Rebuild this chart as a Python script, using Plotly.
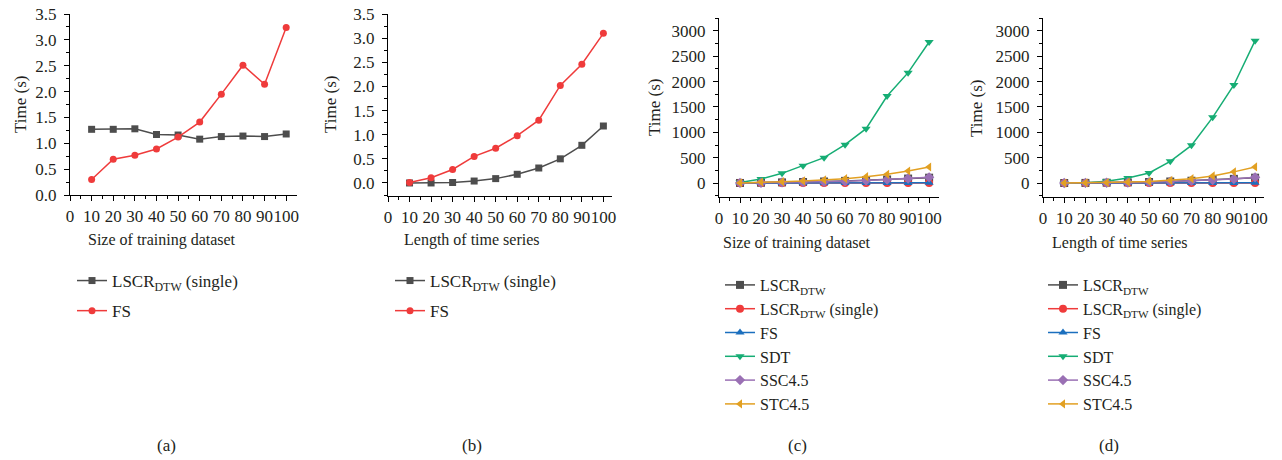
import plotly.graph_objects as go

# ---------------- data ----------------
x_vals = [10, 20, 30, 40, 50, 60, 70, 80, 90, 100]

# (a) size of training dataset
a_lscr_single = [1.27, 1.27, 1.28, 1.17, 1.16, 1.08, 1.13, 1.14, 1.13, 1.18]
a_fs = [0.30, 0.69, 0.77, 0.89, 1.12, 1.41, 1.95, 2.51, 2.14, 3.24]

# (b) length of time series
b_lscr_single = [0.00, 0.00, 0.01, 0.04, 0.09, 0.18, 0.31, 0.50, 0.78, 1.18]
b_fs = [0.01, 0.11, 0.28, 0.55, 0.72, 0.98, 1.30, 2.02, 2.46, 3.10]

# (c) size of training dataset, all methods
c_lscr = [1, 5, 12, 20, 30, 42, 55, 70, 88, 105]
c_lscr_single = a_lscr_single
c_fs = a_fs
c_sdt = [10, 79, 191, 342, 500, 757, 1072, 1717, 2178, 2783]
c_ssc = [2, 6, 12, 18, 26, 36, 50, 66, 88, 112]
c_stc = [2, 20, 26, 40, 60, 86, 125, 171, 237, 316]

# (d) length of time series, all methods
d_lscr = [0, 2, 6, 12, 20, 30, 45, 62, 82, 105]
d_lscr_single = b_lscr_single
d_fs = b_fs
d_sdt = [2, 7, 33, 99, 197, 428, 743, 1296, 1934, 2809]
d_ssc = [0, 2, 5, 10, 18, 28, 42, 58, 79, 112]
d_stc = [0, 3, 8, 18, 32, 52, 85, 140, 220, 318]

x_title_ab = ["Size of training dataset", "Length of time series"]
y_title = "Time (s)"
panel_labels = ["(a)", "(b)", "(c)", "(d)"]

C_GRAY = "#4d4d4d"
C_RED = "#ef3b3b"
C_BLUE = "#1b6fbe"
C_GREEN = "#16ad74"
C_PURPLE = "#9a70b4"
C_ORANGE = "#e2a022"

FONT = "Liberation Serif"
FS_ = 17
W, H = 1282, 460

def px_x(p):
    return p / W

def px_y(p):
    return 1 - p / H

fig = go.Figure()

# panel geometry in pixels: (x0, x1, y_top, y_bottom, xrange, yrange)
panels = [
    (70, 297, 14, 195, [0, 105], [0, 3.5]),
    (388, 612, 14, 196, [0, 104], [-0.27, 3.5]),
    (719, 939, 18, 197, [0, 104.7], [-276, 3256]),
    (1043, 1264, 18, 197, [0, 104.2], [-276, 3256]),
]

LSCR = "LSCR<sub>DTW</sub>"
LSCR_S = "LSCR<sub>DTW</sub> (single)"

series = [
    # panel index, name, y, color, symbol
    (0, LSCR_S, a_lscr_single, C_GRAY, "square"),
    (0, "FS", a_fs, C_RED, "circle"),
    (1, LSCR_S, b_lscr_single, C_GRAY, "square"),
    (1, "FS", b_fs, C_RED, "circle"),
    (2, LSCR, c_lscr, C_GRAY, "square"),
    (2, LSCR_S, c_lscr_single, C_RED, "circle"),
    (2, "FS", c_fs, C_BLUE, "triangle-up"),
    (2, "SDT", c_sdt, C_GREEN, "triangle-down"),
    (2, "SSC4.5", c_ssc, C_PURPLE, "diamond"),
    (2, "STC4.5", c_stc, C_ORANGE, "triangle-left"),
    (3, LSCR, d_lscr, C_GRAY, "square"),
    (3, LSCR_S, d_lscr_single, C_RED, "circle"),
    (3, "FS", d_fs, C_BLUE, "triangle-up"),
    (3, "SDT", d_sdt, C_GREEN, "triangle-down"),
    (3, "SSC4.5", d_ssc, C_PURPLE, "diamond"),
    (3, "STC4.5", d_stc, C_ORANGE, "triangle-left"),
]

for k, (pi, name, ys, col, sym) in enumerate(series):
    sfx = "" if pi == 0 else str(pi + 1)
    fig.add_trace(go.Scatter(
        x=x_vals, y=ys, name=name, mode="lines+markers",
        line=dict(color=col, width=1.5),
        marker=dict(color=col, symbol=sym, size=7 if pi < 2 else 8),
        xaxis="x" + sfx, yaxis="y" + sfx,
        legend="legend" + sfx, legendgroup=f"g{k}",
    ))

layout = dict(
    width=W, height=H, margin=dict(l=0, r=0, t=0, b=0),
    paper_bgcolor="white", plot_bgcolor="white",
    font=dict(family=FONT, size=FS_, color="#231f20"),
)

for i, (x0, x1, yt, yb, xr, yr) in enumerate(panels):
    sfx = "" if i == 0 else str(i + 1)
    big = i >= 2
    layout["xaxis" + sfx] = dict(
        domain=[px_x(x0), px_x(x1)], range=xr, anchor="y" + sfx,
        tickmode="array", tickvals=[0, 10, 20, 30, 40, 50, 60, 70, 80, 90, 100],
        tickangle=0, automargin=False,
        ticks="outside", ticklen=5, tickwidth=1, tickcolor="black",
        minor=dict(tickmode="array", tickvals=[5, 15, 25, 35, 45, 55, 65, 75, 85, 95],
                   ticks="outside", ticklen=3, tickcolor="black"),
        showline=True, linecolor="black", linewidth=1, showgrid=False, zeroline=False,
        tickfont=dict(size=FS_, family=FONT), ticklabelstandoff=1,
    )
    if big:
        ytv = [0, 500, 1000, 1500, 2000, 2500, 3000]
        ymn = [-250, 250, 750, 1250, 1750, 2250, 2750, 3250]
    else:
        ytv = [0, 0.5, 1.0, 1.5, 2.0, 2.5, 3.0, 3.5]
        ymn = [-0.25, 0.25, 0.75, 1.25, 1.75, 2.25, 2.75, 3.25]
    layout["yaxis" + sfx] = dict(
        domain=[px_y(yb), px_y(yt)], range=yr, anchor="x" + sfx,
        automargin=False,
        tickmode="array", tickvals=ytv,
        ticktext=[f"{v:.1f}" for v in ytv] if not big else [str(v) for v in ytv],
        ticks="outside", ticklen=5, tickwidth=1, tickcolor="black",
        minor=dict(tickmode="array", tickvals=ymn, ticks="outside", ticklen=3, tickcolor="black"),
        showline=True, linecolor="black", linewidth=1, showgrid=False, zeroline=False,
        tickfont=dict(size=FS_, family=FONT), ticklabelstandoff=4,
    )

legend_pos = [(72, 263, 5, FS_), (390, 263, 5, FS_), (720, 268, 0, 16), (1043, 268, 0, 16)]
for i, (lx, ly, gap, fsz) in enumerate(legend_pos):
    sfx = "" if i == 0 else str(i + 1)
    layout["legend" + sfx] = dict(
        x=px_x(lx), y=px_y(ly), xanchor="left", yanchor="top",
        bgcolor="rgba(0,0,0,0)", font=dict(size=fsz, family=FONT),
        tracegroupgap=gap, itemwidth=30,
    )

fig.update_layout(**layout)

# axis titles (placed to match the reference)
xt_pos = [(162, 240), (472, 240), (797, 243), (1120, 243)]
yt_pos = [(20, 105), (330, 105), (655, 108), (977, 108)]
for i in range(4):
    fig.add_annotation(text=x_title_ab[i % 2], x=px_x(xt_pos[i][0]), y=px_y(xt_pos[i][1]),
                       xref="paper", yref="paper", xanchor="center", yanchor="middle",
                       showarrow=False, font=dict(size=16, family=FONT))
    fig.add_annotation(text=y_title, x=px_x(yt_pos[i][0]), y=px_y(yt_pos[i][1]),
                       xref="paper", yref="paper", xanchor="center", yanchor="middle",
                       textangle=-90, showarrow=False, font=dict(size=FS_, family=FONT))

label_x = [155, 472, 797, 1121]
for lbl, lx in zip(panel_labels, label_x):
    fig.add_annotation(text=lbl, x=px_x(lx), y=px_y(445), xref="paper", yref="paper",
                       yanchor="middle", showarrow=False, font=dict(size=FS_, family=FONT))

fig.write_html("out.html")
